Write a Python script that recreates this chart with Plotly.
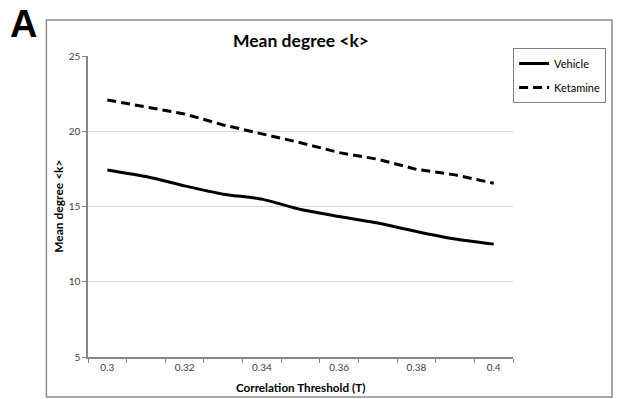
import plotly.graph_objects as go

thresholds = [0.30, 0.31, 0.32, 0.33, 0.34, 0.35, 0.36, 0.37, 0.38, 0.39, 0.40]
vehicle = [17.43, 16.99, 16.37, 15.82, 15.49, 14.80, 14.34, 13.90, 13.34, 12.84, 12.50]
ketamine = [22.08, 21.60, 21.15, 20.42, 19.85, 19.24, 18.58, 18.14, 17.47, 17.10, 16.55]
x_tick_labels = ["0.3", "0.32", "0.34", "0.36", "0.38", "0.4"]
x_tick_vals = [0.30, 0.32, 0.34, 0.36, 0.38, 0.40]
y_ticks = [5, 10, 15, 20, 25]

FONT = "Lato, 'Open Sans', sans-serif"
W, H = 618, 399
L, R, T, B = 88, 101, 56, 42
pw, ph = W - L - R, H - T - B

def px_x(x):
    return (x - L) / pw

def px_y(y):
    return (H - B - y) / ph

fig = go.Figure()
fig.add_trace(go.Scatter(
    x=thresholds, y=vehicle, mode="lines", name="Vehicle",
    line=dict(color="black", width=3, shape="spline", smoothing=0.5),
    legendgroup="a",
))
fig.add_trace(go.Scatter(
    x=thresholds, y=ketamine, mode="lines", name="Ketamine",
    line=dict(color="black", width=3, dash="9px,5px"),
    legendgroup="b",
))

boundaries = [round(0.295 + 0.01 * i, 3) for i in range(12)]

fig.update_layout(
    width=W, height=H,
    margin=dict(l=L, r=R, t=T, b=B),
    paper_bgcolor="white", plot_bgcolor="white",
    font=dict(family=FONT, size=10, color="#404040"),
    showlegend=True,
    legend=dict(
        x=px_x(611), y=px_y(48), xanchor="right", yanchor="top",
        bordercolor="#7f7f7f", borderwidth=1, bgcolor="white",
        font=dict(family=FONT, size=11, color="black"),
        itemwidth=30, tracegroupgap=5, traceorder="grouped",
    ),
    xaxis=dict(
        range=[0.295, 0.405],
        tickvals=x_tick_vals, ticktext=x_tick_labels,
        ticks="", showgrid=False, zeroline=False,
        showline=True, linecolor="#868686", linewidth=1.5,
        tickfont=dict(family=FONT, size=10, color="#404040"),
        minor=dict(tickvals=boundaries, ticks="outside", ticklen=4,
                   tickcolor="#868686", showgrid=False),
        fixedrange=True,
    ),
    yaxis=dict(
        range=[5, 25], tickvals=y_ticks,
        ticks="outside", ticklen=4, tickcolor="#868686",
        showgrid=True, gridcolor="#d9d9d9", gridwidth=1,
        zeroline=False, showline=True, linecolor="#868686", linewidth=1.5,
        tickfont=dict(family=FONT, size=10, color="#404040"),
        fixedrange=True,
    ),
    shapes=[
        dict(type="rect", xref="paper", yref="paper",
             x0=px_x(46), x1=px_x(617), y0=px_y(397), y1=px_y(20),
             line=dict(color="#8c8c8c", width=1.5), layer="below"),
    ],
    annotations=[
        dict(text="<b>Mean degree &lt;k&gt;</b>", xref="paper", yref="paper",
             x=0.5, y=px_y(40), xanchor="center", yanchor="middle",
             showarrow=False, font=dict(family=FONT, size=17.5, color="black")),
        dict(text="<b>A</b>", xref="paper", yref="paper",
             x=px_x(23), y=px_y(24), xanchor="center", yanchor="middle",
             showarrow=False,
             font=dict(family="'Liberation Sans', Arial, sans-serif", size=38, color="black")),
        dict(text="<b>Correlation Threshold (T)</b>", xref="paper", yref="paper",
             x=0.5, y=px_y(387), xanchor="center", yanchor="middle",
             showarrow=False, font=dict(family=FONT, size=11.7, color="black")),
        dict(text="<b>Mean degree &lt;k&gt;</b>", xref="paper", yref="paper",
             x=px_x(58), y=0.5, xanchor="center", yanchor="middle", textangle=-90,
             showarrow=False, font=dict(family=FONT, size=12, color="black")),
    ],
)

fig.write_html("out.html")
